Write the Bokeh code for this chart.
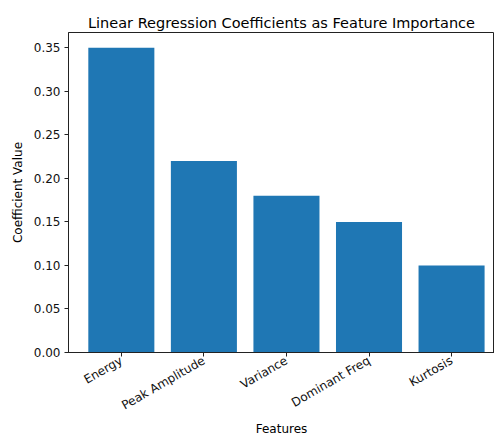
import math
from bokeh.plotting import figure
from bokeh.models import ColumnDataSource, FixedTicker, Range1d, NumeralTickFormatter
from bokeh.embed import file_html
from bokeh.resources import INLINE

features = ["Energy", "Peak Amplitude", "Variance", "Dominant Freq", "Kurtosis"]
coefficients = [0.35, 0.22, 0.18, 0.15, 0.10]
y_ticks = [0.0, 0.05, 0.10, 0.15, 0.20, 0.25, 0.30, 0.35]
y_max = 0.3675
x_lo, x_hi = -0.64, 4.52

xs = list(range(len(features)))
src = ColumnDataSource(dict(x=xs, top=coefficients, name=features))

FONT = "DejaVu Sans"
p = figure(width=494, height=438, output_backend="svg", toolbar_location=None,
           x_range=Range1d(x_lo, x_hi), y_range=Range1d(0, y_max),
           min_border_left=68, min_border_right=0, min_border_top=32, min_border_bottom=83,
           title="Linear Regression Coefficients as Feature Importance")
p.vbar(x="x", top="top", width=0.8, bottom=0, source=src, color="#1f77b4", line_color=None)

p.outline_line_color = "#222222"
p.outline_line_width = 1
p.xgrid.visible = False
p.ygrid.visible = False

p.title.text_font = FONT
p.title.text_font_size = "14.5px"
p.title.text_font_style = "normal"
p.title.text_color = "#000000"
p.title.align = "center"
p.title.offset = 5
p.title.standoff = 4

LBL = "12px"
xa = p.xaxis[0]
xa.ticker = FixedTicker(ticks=xs)
xa.major_label_overrides = {i: f for i, f in enumerate(features)}
xa.major_label_orientation = math.pi / 6
xa.minor_tick_line_color = None
xa.major_tick_in = 0
xa.major_tick_out = 4
xa.axis_label = "Features"
xa.axis_label_text_font = FONT
xa.axis_label_text_font_style = "normal"
xa.axis_label_text_font_size = LBL
xa.axis_label_text_color = "#000000"
xa.major_label_text_font = FONT
xa.major_label_text_font_size = LBL
xa.major_label_text_color = "#111111"
xa.axis_line_color = "#222222"
xa.major_tick_line_color = "#222222"
xa.major_label_standoff = 3
xa.axis_label_standoff = 0

ya = p.yaxis[0]
ya.ticker = FixedTicker(ticks=y_ticks)
ya.formatter = NumeralTickFormatter(format="0.00")
ya.minor_tick_line_color = None
ya.major_tick_in = 0
ya.major_tick_out = 4
ya.axis_label = "Coefficient Value"
ya.axis_label_text_font = FONT
ya.axis_label_text_font_style = "normal"
ya.axis_label_text_font_size = LBL
ya.axis_label_text_color = "#000000"
ya.major_label_text_font = FONT
ya.major_label_text_font_size = LBL
ya.major_label_text_color = "#111111"
ya.axis_line_color = "#222222"
ya.major_tick_line_color = "#222222"
ya.major_label_standoff = 4
ya.axis_label_standoff = 6

open("out.html", "w").write(file_html(p, INLINE))
